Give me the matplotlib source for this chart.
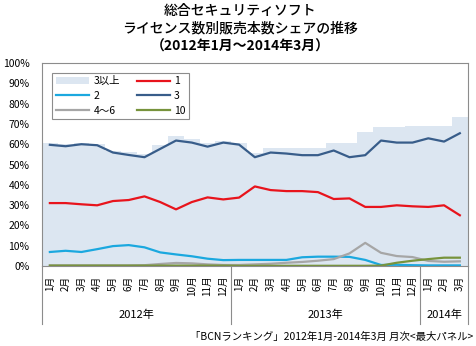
import matplotlib.pyplot as plt
import numpy as np

plt.rcParams['font.family'] = ['Noto Sans CJK JP', 'DejaVu Sans']

# monthly share of units sold, by licence count (%)
months = [f'{m}月' for m in range(1, 13)] * 2 + ['1月', '2月', '3月']
years = ['2012年', '2013年', '2014年']
year_spans = [(0, 12), (12, 24), (24, 27)]

share_3plus = [60.8, 60.0, 60.6, 60.2, 56.8, 56.0, 55.2, 59.5, 64.2, 62.5, 60.5, 61.8,
               60.5, 55.5, 58.0, 58.0, 58.0, 58.2, 60.6, 60.6, 65.8, 68.6, 68.6, 69.1,
               69.1, 69.1, 73.2]
share_1 = [31.0, 31.0, 30.4, 29.9, 32.0, 32.5, 34.3, 31.5, 27.9, 31.5, 33.8, 32.8,
           33.7, 39.2, 37.4, 36.9, 36.9, 36.4, 33.0, 33.3, 29.1, 29.1, 29.9, 29.4,
           29.1, 29.9, 25.0]
share_2 = [6.9, 7.5, 6.9, 8.3, 9.8, 10.3, 9.2, 6.7, 5.7, 4.8, 3.6, 2.9,
           3.0, 3.0, 3.0, 3.0, 4.3, 4.6, 4.6, 4.5, 3.0, 0.5, 0.6, 0.4,
           0.3, 0.3, 0.3]
share_3 = [59.7, 59.0, 60.0, 59.5, 55.9, 54.7, 53.6, 57.7, 61.8, 60.8, 58.8, 60.8,
           59.8, 53.6, 55.9, 55.4, 54.6, 54.6, 56.9, 53.6, 54.6, 61.8, 60.8, 60.8,
           62.9, 61.3, 65.4]
share_4to6 = [0.3, 0.3, 0.3, 0.3, 0.3, 0.3, 0.4, 1.0, 1.5, 1.3, 0.8, 0.5,
              0.5, 0.8, 1.1, 1.6, 2.0, 2.6, 3.4, 6.2, 11.4, 6.5, 4.9, 4.4,
              2.5, 2.1, 2.3]
share_10 = [0.2, 0.2, 0.2, 0.2, 0.2, 0.2, 0.2, 0.2, 0.2, 0.2, 0.2, 0.2,
            0.1, 0.1, 0.1, 0.1, 0.1, 0.1, 0.1, 0.1, 0.1, 0.2, 1.6, 2.6,
            3.4, 4.1, 4.1]

x = np.arange(len(months))

fig = plt.figure(figsize=(4.76, 3.46), dpi=100)
ax = fig.add_axes([0.0882, 0.2312, 0.8944, 0.5867])

area = ax.bar(x, share_3plus, width=1.0, color='#dce6f1', linewidth=0, label='3以上')
l1, = ax.plot(x, share_1, color='#e8141c', lw=1.6, label='1')
l2, = ax.plot(x, share_2, color='#1ba8df', lw=1.6, label='2')
l46, = ax.plot(x, share_4to6, color='#a6a6a6', lw=1.6, label='4～6')
l10, = ax.plot(x, share_10, color='#77933c', lw=1.6, label='10')
l3, = ax.plot(x, share_3, color='#385d8a', lw=1.6, label='3')

ax.set_xlim(-0.5, len(months) - 0.5)
ax.set_ylim(0, 100)
ax.set_yticks(np.arange(0, 101, 10))
ax.set_yticklabels([f'{v}%' for v in range(0, 101, 10)])
ax.tick_params(axis='y', length=0, pad=9, labelsize=7.5)
ax.set_xticks(x)
ax.set_xticklabels(months, rotation=90, va='top', ha='center')
ax.tick_params(axis='x', length=0, pad=7, labelsize=7)

for s in ax.spines.values():
    s.set_color('#8c8c8c')
    s.set_linewidth(0.8)

# year groups under the month labels
tr = ax.get_xaxis_transform()
for (a, b), yr in zip(year_spans, years):
    ax.text((a + b - 1) / 2, -0.241, yr, transform=tr, ha='center', va='center', fontsize=8)
for b in [-0.5, 11.5, 23.5, 26.5]:
    ax.plot([b, b], [0, -0.285], transform=tr, color='#8c8c8c', lw=0.8, clip_on=False)

handles = [area, l2, l46, l1, l3, l10]
leg = ax.legend(handles=handles, labels=[h.get_label() for h in handles], ncol=2,
                loc='upper left', bbox_to_anchor=(0.012, 0.978), fontsize=7.5,
                frameon=True, fancybox=False, edgecolor='#8c8c8c', framealpha=1,
                handlelength=3.2, handletextpad=0.4, columnspacing=1.6,
                labelspacing=0.45, borderpad=0.35)
leg.get_frame().set_linewidth(0.8)

fig.text(0.505, 0.968, '総合セキュリティソフト', ha='center', va='center',
         fontsize=10, fontweight='medium')
fig.text(0.505, 0.918, 'ライセンス数別販売本数シェアの推移', ha='center', va='center',
         fontsize=10, fontweight='medium')
fig.text(0.505, 0.866, '（2012年1月～2014年3月）', ha='center', va='center',
         fontsize=10, fontweight='bold')
fig.text(0.994, 0.026, '「BCNランキング」2012年1月-2014年3月 月次<最大パネル>',
         ha='right', va='center', fontsize=7.5)

fig.savefig('out.png', dpi=100)
